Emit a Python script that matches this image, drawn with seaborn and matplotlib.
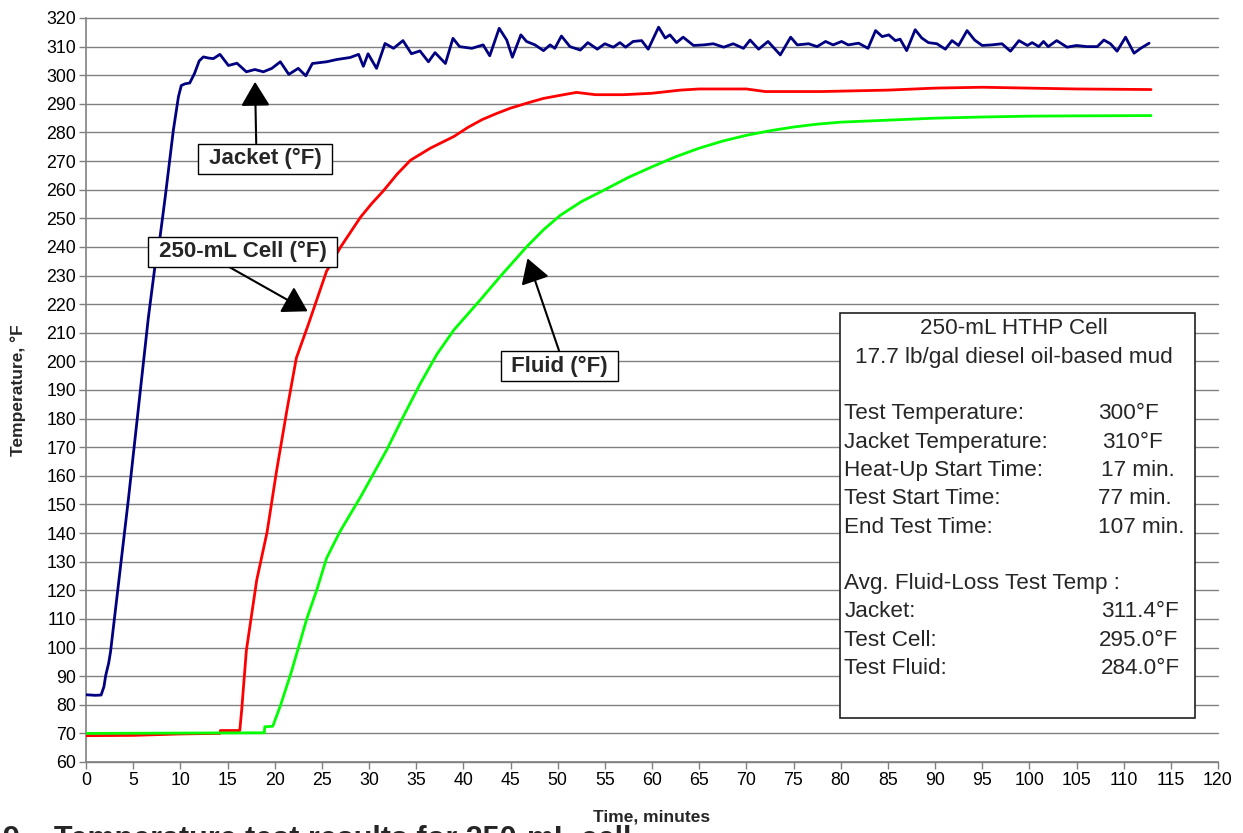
import matplotlib
matplotlib.use("Agg")
import matplotlib.pyplot as plt
import seaborn as sns
import pandas as pd
from matplotlib.patches import Rectangle

# ---------------- data ----------------
jacket_t = [0, 1.0, 1.6, 1.9, 2.1, 2.4, 2.6, 3.5, 4.5, 5.5, 6.6, 7.3, 7.85, 8.4, 9.26, 9.8, 10.1, 10.5,
            11.0, 11.5, 12.0, 12.44, 13.0, 13.5, 14.2, 15.1, 16.0, 17.0, 17.9, 18.8, 19.7, 20.6, 21.5,
            22.5, 23.3, 24.0, 25.5, 26.6, 28.0, 28.9, 29.4, 29.9, 30.8, 31.7, 32.6, 33.6, 34.5, 35.4,
            36.3, 37.0, 38.1, 38.9, 39.6, 40.9, 42.1, 42.8, 43.8, 44.6, 45.2, 46.1, 46.7, 47.6, 48.5,
            49.2, 49.7, 50.4, 51.3, 52.4, 53.2, 54.2, 55.0, 55.9, 56.6, 57.2, 58.0, 58.9, 59.6, 60.7,
            61.4, 61.9, 62.6, 63.3, 64.4, 65.5, 66.5, 67.6, 68.6, 69.7, 70.4, 71.3, 72.3, 73.6, 74.7,
            75.4, 76.6, 77.5, 78.4, 79.2, 80.1, 80.8, 81.9, 82.9, 83.7, 84.4, 85.1, 85.8, 86.3, 87.0,
            87.9, 88.6, 89.3, 90.2, 91.1, 91.8, 92.5, 93.4, 94.2, 95.0, 96.0, 97.1, 98.0, 98.9, 99.8,
            100.3, 101.0, 101.5, 102.0, 102.9, 104.0, 105.0, 106.1, 107.2, 107.9, 108.6, 109.3, 110.2,
            111.1, 111.8, 112.7]
jacket_v = [83.5, 83.3, 83.4, 86.3, 90.4, 94.5, 98.5, 124, 152, 182, 215, 233, 243.5, 257.5, 280.8, 292.5,
            296.4, 297.0, 297.3, 300.6, 305.0, 306.4, 306.0, 305.8, 307.3, 303.4, 304.2, 301.2, 302.0,
            301.2, 302.4, 304.7, 300.3, 302.4, 299.8, 304.1, 304.7, 305.5, 306.2, 307.3, 303.1, 307.5,
            302.4, 311.1, 309.4, 312.1, 307.5, 308.5, 304.7, 307.9, 304.1, 312.9, 310.0, 309.4, 310.6,
            306.8, 316.4, 312.3, 306.3, 314.1, 311.8, 310.6, 308.6, 310.6, 309.4, 313.7, 310.0, 308.8,
            311.4, 309.1, 311.0, 309.8, 311.4, 309.8, 311.8, 312.1, 309.1, 316.8, 313.0, 314.1, 311.4,
            313.3, 310.4, 310.6, 311.0, 309.8, 311.0, 309.4, 312.3, 309.1, 311.8, 307.1, 313.3, 310.6,
            311.0, 310.0, 311.8, 310.6, 311.8, 310.6, 311.2, 309.4, 315.6, 313.5, 314.1, 312.1, 312.6,
            308.6, 315.9, 313.0, 311.4, 311.0, 309.1, 312.1, 310.4, 315.6, 312.3, 310.4, 310.6, 311.0,
            308.4, 312.1, 310.4, 311.4, 310.0, 311.8, 310.0, 312.1, 309.8, 310.4, 310.0, 310.0, 312.3,
            311.0, 308.4, 313.3, 307.7, 309.4, 311.2]

cell_t = [0, 5, 10, 14.2, 14.25, 16.3, 16.5, 17.0, 18.1, 19.2, 20.2, 21.3, 22.3, 23.6, 25.5, 27.0,
          29.1, 30.3, 31.5, 33.0, 34.4, 36.5, 39.0, 40.5, 42.0, 43.5, 45.0, 47.0, 48.5, 50.3, 52.0,
          54.0, 57.0, 60.0, 63.0, 65.0, 70.0, 72.0, 78.0, 85.0, 90.0, 95.0, 100.0, 105.0, 112.9]
cell_v = [69.2, 69.3, 69.8, 70.0, 71.0, 71.0, 78.0, 99.0, 123.6, 140.4, 161.7, 183.0, 201.2, 213.2,
          231.5, 240.0, 250.4, 255.2, 259.5, 265.5, 270.3, 274.5, 278.6, 281.8, 284.5, 286.6, 288.5,
          290.5, 291.9, 293.0, 294.0, 293.2, 293.2, 293.7, 294.8, 295.2, 295.2, 294.3, 294.3, 294.8,
          295.5, 295.8, 295.5, 295.2, 295.0]

fluid_t = [0, 18.9, 18.95, 19.8, 20.6, 21.8, 23.4, 24.5, 25.5, 26.9, 29.1, 31.9, 33.6, 35.4, 37.2,
           39.0, 41.8, 44.0, 46.7, 48.5, 50.3, 52.5, 55.0, 57.5, 60.0, 62.5, 65.0, 67.5, 70.0, 72.5,
           75.0, 77.5, 80.0, 85.0, 90.0, 95.0, 100.0, 105.0, 112.9]
fluid_v = [70.0, 70.2, 72.3, 72.5, 79.6, 91.8, 110.0, 120.5, 131.2, 140.4, 152.6, 169.2, 180.5, 192.0,
           202.5, 211.0, 221.5, 230.0, 240.0, 246.0, 251.1, 255.8, 260.0, 264.3, 268.0, 271.5, 274.5,
           277.0, 279.0, 280.6, 281.9, 282.9, 283.6, 284.3, 285.0, 285.4, 285.7, 285.8, 285.9]

series_names = ["Jacket (°F)", "250-mL Cell (°F)", "Fluid (°F)"]
series_colors = ["#000080", "#FF0000", "#00FF00"]

x_ticks = list(range(0, 121, 5))
y_ticks = list(range(60, 321, 10))

info_title = ["250-mL HTHP Cell", "17.7 lb/gal diesel oil-based mud"]
info_labels = ["Test Temperature:", "Jacket Temperature:", "Heat-Up Start Time:", "Test Start Time:",
               "End Test Time:", "", "Avg. Fluid-Loss Test Temp :", "Jacket:", "Test Cell:", "Test Fluid:"]
info_values = ["300°F", "310°F", "17 min.", "77 min.", "107 min.", "", "", "311.4°F", "295.0°F", "284.0°F"]

# ---------------- figure ----------------
sns.set_theme(style="white")
plt.rcParams["font.family"] = ["Liberation Sans", "DejaVu Sans"]

W, H = 1243, 833
fig = plt.figure(figsize=(W / 100, H / 100), dpi=100)
L, R, T, B = 86, 1218, 18, 762
ax = fig.add_axes([L / W, 1 - B / H, (R - L) / W, (B - T) / H])

frames = [
    pd.DataFrame({"t": jacket_t, "v": jacket_v, "s": series_names[0]}),
    pd.DataFrame({"t": cell_t, "v": cell_v, "s": series_names[1]}),
    pd.DataFrame({"t": fluid_t, "v": fluid_v, "s": series_names[2]}),
]
for df, c in zip(frames, series_colors):
    sns.lineplot(data=df, x="t", y="v", ax=ax, color=c, lw=2.0, sort=False, estimator=None,
                 legend=False, zorder=3)

ax.set_xlim(0, 120)
ax.set_ylim(60, 320)
ax.set_xticks(x_ticks)
ax.set_xticklabels([str(v) for v in x_ticks])
ax.set_yticks(y_ticks)
ax.set_yticklabels([str(v) for v in y_ticks])
ax.tick_params(axis="both", which="major", labelsize=12.8, colors="#000000", length=5, width=1,
               direction="out", pad=2, bottom=True, left=True)
ax.tick_params(axis="both", color="#808080")
ax.set_xlabel("")
ax.set_ylabel("")
for sp in ["top", "right"]:
    ax.spines[sp].set_visible(False)
for sp in ["left", "bottom"]:
    ax.spines[sp].set_color("#808080")
    ax.spines[sp].set_linewidth(1.2)
ax.yaxis.grid(True, color="#808080", lw=1.0)
ax.xaxis.grid(False)
for gl in ax.get_ygridlines():
    gl.set_clip_on(False)
ax.set_axisbelow(True)

# axis titles
fig.text(18 / W, 1 - 390 / H, "Temperature, °F", rotation=90, ha="center", va="center",
         fontsize=12.5, fontweight="bold")
fig.text(652 / W, 1 - 817 / H, "Time, minutes", ha="center", va="center",
         fontsize=12.5, fontweight="bold")
# caption (cut off at the bottom edge in the reference)
fig.text(3 / W, 1 - 825 / H, "9 – Temperature test results for 250-mL cell", ha="left", va="top",
         fontsize=22, fontweight="bold")

# callouts
bbox = dict(boxstyle="square,pad=0.2", fc="white", ec="black", lw=1.0)
arrow = dict(arrowstyle="-|>,head_length=0.5,head_width=0.3", color="black", lw=1.5,
             mutation_scale=30, shrinkA=0, shrinkB=0)
ax.annotate(" " + series_names[0] + " ", xy=(17.92, 297.7), xytext=(18.98, 270.8),
            ha="center", va="center", fontsize=16, fontweight="bold", bbox=bbox, zorder=5,
            arrowprops=dict(arrow, relpos=(0.43, 1.0)))
ax.annotate(" " + series_names[1] + " ", xy=(23.5, 217.5), xytext=(16.6, 238.3),
            ha="center", va="center", fontsize=16, fontweight="bold", bbox=bbox, zorder=5,
            arrowprops=dict(arrow, relpos=(0.38, 0.0)))
ax.annotate(" " + series_names[2] + " ", xy=(46.8, 236.0), xytext=(50.2, 198.4),
            ha="center", va="center", fontsize=16, fontweight="bold", bbox=bbox, zorder=5,
            arrowprops=dict(arrow, relpos=(0.51, 1.0)))

# info box
ax.add_patch(Rectangle((79.88, 75.3), 117.6 - 79.88, 217.0 - 75.3, fc="white", ec="#202020",
                       lw=1.2, zorder=6, clip_on=False))
ax.text(98.4, 209.4, info_title[0], ha="center", va="baseline", fontsize=16.2, zorder=7)
ax.text(98.4, 199.5, info_title[1], ha="center", va="baseline", fontsize=16.2, zorder=7)
value_x = [107.3, 107.7, 107.6, 107.3, 107.3, 107.3, 107.3, 107.6, 107.4, 107.6]
base_v = 179.8
for i, (lab, val) in enumerate(zip(info_labels, info_values)):
    yv = base_v - i * 9.9
    if lab:
        ax.text(80.38, yv, lab, ha="left", va="baseline", fontsize=16.2, zorder=7)
    if val:
        ax.text(value_x[i], yv, val, ha="left", va="baseline", fontsize=16.2, zorder=7)

fig.savefig("out.png", dpi=100)
